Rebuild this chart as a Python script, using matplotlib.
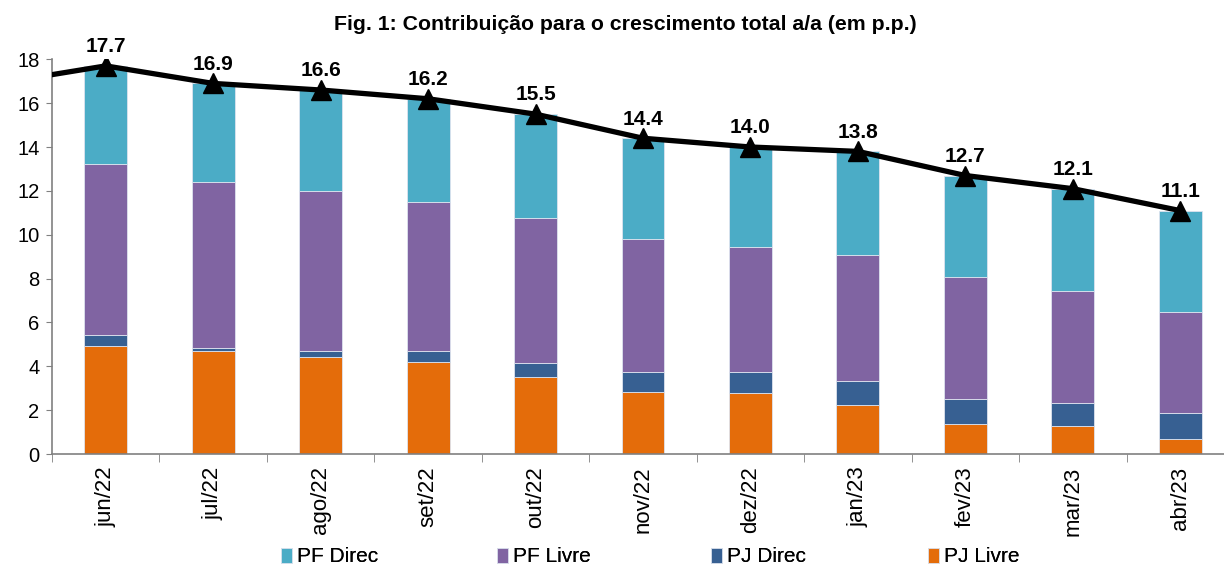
import matplotlib
matplotlib.use("Agg")
import matplotlib.pyplot as plt
import numpy as np

plt.rcParams['font.family'] = ['Liberation Sans', 'DejaVu Sans']

categories = ["jun/22", "jul/22", "ago/22", "set/22", "out/22", "nov/22",
              "dez/22", "jan/23", "fev/23", "mar/23", "abr/23"]
pj_livre = [4.92, 4.70, 4.41, 4.18, 3.52, 2.81, 2.77, 2.22, 1.35, 1.28, 0.70]
pj_direc = [0.49, 0.12, 0.30, 0.50, 0.62, 0.91, 0.98, 1.09, 1.14, 1.06, 1.18]
pf_livre = [7.81, 7.60, 7.30, 6.81, 6.64, 6.07, 5.67, 5.78, 5.57, 5.11, 4.61]
total = [17.7, 16.9, 16.6, 16.2, 15.5, 14.4, 14.0, 13.8, 12.7, 12.1, 11.1]
prev_total = 16.9  # mai/22, outside the visible range
pf_direc = [round(t - a - b - c, 2) for t, a, b, c in zip(total, pj_livre, pj_direc, pf_livre)]

col_pfd = "#4BACC6"
col_pfl = "#8064A2"
col_pjd = "#376092"
col_pjl = "#E46C0A"

fig = plt.figure(figsize=(12.24, 5.66), dpi=100)
ax = fig.add_axes([52/1224, 112/566, (1234-52)/1224, (454-59.3)/566])

x = np.arange(len(categories))
w = 0.4
ec = "#dde3ee"
lw = 0.6
b1 = ax.bar(x, pj_livre, w, color=col_pjl, edgecolor=ec, linewidth=lw, label="PJ Livre", zorder=2)
bot = np.array(pj_livre)
b2 = ax.bar(x, pj_direc, w, bottom=bot, color=col_pjd, edgecolor=ec, linewidth=lw, label="PJ Direc", zorder=2)
bot = bot + np.array(pj_direc)
b3 = ax.bar(x, pf_livre, w, bottom=bot, color=col_pfl, edgecolor=ec, linewidth=lw, label="PF Livre", zorder=2)
bot = bot + np.array(pf_livre)
b4 = ax.bar(x, pf_direc, w, bottom=bot, color=col_pfd, edgecolor=ec, linewidth=lw, label="PF Direc", zorder=2)

lx = np.concatenate([[-1], x])
ly = [prev_total] + total
ax.plot(lx, ly, color="black", linewidth=3.8, zorder=4)
ax.plot(x, total, linestyle="none", marker="^", markersize=14.5, color="black", zorder=5)

for xi, t in zip(x, total):
    ax.annotate(f"{t:.1f}", (xi, t), xytext=(0, 7), textcoords="offset points",
                ha="center", va="bottom", fontsize=15, fontweight="bold",
                annotation_clip=False, zorder=6)

ax.set_xlim(-0.5, 10.5)
ax.set_ylim(0, 18)
ax.set_yticks(np.arange(0, 19, 2))
ax.tick_params(axis="y", labelsize=14.5, length=4, color="#808080", pad=5)
ax.set_xticks(x)
ax.set_xticklabels(categories, rotation=90, fontsize=16)
ax.tick_params(axis="x", length=0, pad=9)
ax.set_xticks(np.arange(-0.5, 10.6, 1), minor=True)
ax.tick_params(axis="x", which="minor", length=6, color="#808080")

for s in ["top", "right"]:
    ax.spines[s].set_visible(False)
for s in ["left", "bottom"]:
    ax.spines[s].set_color("#808080")
    ax.spines[s].set_linewidth(1.2)

fig.text(625/1224, 1 - 24/566, "Fig. 1: Contribuição para o crescimento total a/a (em p.p.)",
         ha="center", va="center", fontsize=15.3, fontweight="bold")

handles = [b4, b3, b2, b1]
names = ["PF Direc", "PF Livre", "PJ Direc", "PJ Livre"]
xpos = [281, 497, 711, 928]
for h, n, xp in zip(handles, names, xpos):
    leg = fig.legend([h], [n], loc="center left", bbox_to_anchor=(xp/1224, 1 - 557/566),
                     frameon=False, fontsize=15, handlelength=0.55, handleheight=0.75,
                     handletextpad=0.2, borderpad=0, borderaxespad=0)
    fig.add_artist(leg)

fig.savefig("out.png", dpi=100)
